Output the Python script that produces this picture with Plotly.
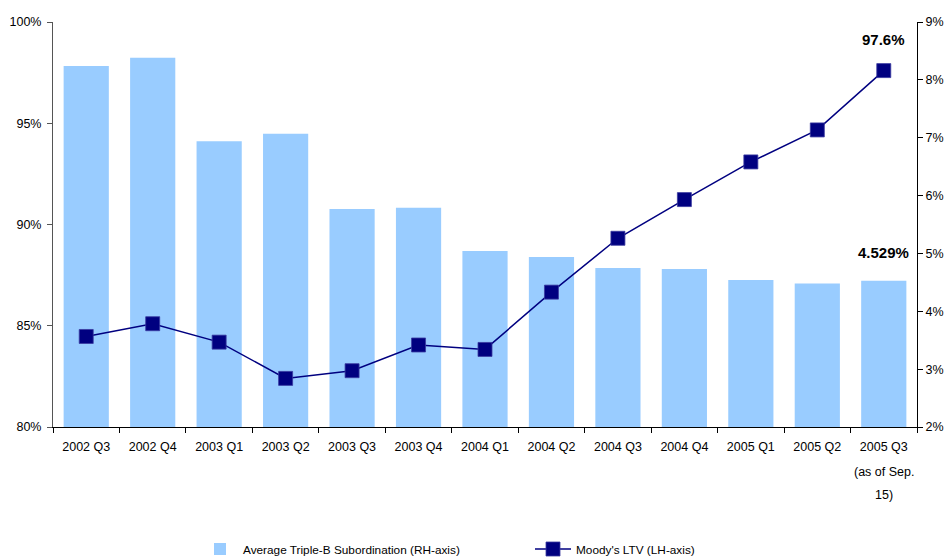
import plotly.graph_objects as go

# Quarter labels along the x axis
quarters = ["2002 Q3", "2002 Q4", "2003 Q1", "2003 Q2", "2003 Q3", "2003 Q4",
            "2004 Q1", "2004 Q2", "2004 Q3", "2004 Q4", "2005 Q1", "2005 Q2",
            "2005 Q3"]
last_quarter_note = ["(as of Sep.", "15)"]

# Average Triple-B subordination, % (right-hand axis)
subordination = [8.24, 8.38, 6.94, 7.07, 5.77, 5.79, 5.04, 4.94, 4.75, 4.73,
                 4.54, 4.48, 4.529]

# Moody's LTV, % (left-hand axis)
moodys_ltv = [84.47, 85.10, 84.19, 82.40, 82.78, 84.05, 83.83, 86.66, 89.32,
              91.23, 93.09, 94.67, 97.6]

left_ticks = [80, 85, 90, 95, 100]
right_ticks = [2, 3, 4, 5, 6, 7, 8, 9]

FONT = "Arial, Liberation Sans, sans-serif"
BAR_COLOR = "#99CCFF"
LINE_COLOR = "#000080"
TICK_SIZE = 12.5
W, H = 949, 558

fig = go.Figure()

fig.add_trace(go.Bar(
    x=quarters, y=subordination, yaxis="y",
    name="Average Triple-B Subordination (RH-axis)",
    marker=dict(color=BAR_COLOR, line=dict(width=0)),
    legend="legend",
))

fig.add_trace(go.Scatter(
    x=quarters, y=moodys_ltv, yaxis="y2",
    mode="lines+markers",
    name="Moody's LTV (LH-axis)",
    line=dict(color=LINE_COLOR, width=1.5),
    marker=dict(symbol="square", size=14, color=LINE_COLOR,
                line=dict(color="#3a3aa0", width=0.8)),
    legend="legend2",
))

annotations = [
    dict(x=quarters[-1], y=moodys_ltv[-1], xref="x", yref="y2",
         text=f"<b>{moodys_ltv[-1]}%</b>", showarrow=False, yshift=31,
         font=dict(family=FONT, size=15, color="#000000"),
         xanchor="center", yanchor="middle"),
    dict(x=quarters[-1], y=subordination[-1], xref="x", yref="y",
         text=f"<b>{subordination[-1]}%</b>", showarrow=False, yshift=28,
         font=dict(family=FONT, size=15, color="#000000"),
         xanchor="center", yanchor="middle"),
]

# extra lines under the final quarter label
for i, line in enumerate(last_quarter_note):
    annotations.append(dict(
        x=quarters[-1], y=-0.111 - 0.057 * i, xref="x", yref="paper",
        text=line, showarrow=False,
        font=dict(family=FONT, size=TICK_SIZE, color="#000000"),
        xanchor="center", yanchor="middle"))

legend_common = dict(
    orientation="h", xref="container", yref="container",
    xanchor="left", yanchor="middle", y=1 - 549 / H,
    font=dict(family=FONT, size=11.8, color="#000000"),
    bgcolor="rgba(0,0,0,0)", itemwidth=36,
)

fig.update_layout(
    width=W, height=H,
    margin=dict(l=53, r=32, t=22, b=131, autoexpand=False),
    paper_bgcolor="white", plot_bgcolor="white",
    font=dict(family=FONT, size=12, color="#000000"),
    bargap=0.32,
    showlegend=True,
    legend=dict(x=197 / W, **legend_common),
    legend2=dict(x=530 / W, **legend_common),
    xaxis=dict(
        type="category", range=[-0.5, len(quarters) - 0.5],
        showline=True, linecolor="#000000", linewidth=1,
        ticks="outside", tickson="boundaries", ticklen=5,
        tickcolor="#000000", showgrid=False, zeroline=False,
        ticklabelstandoff=8, automargin=False,
        tickfont=dict(family=FONT, size=TICK_SIZE, color="#000000"),
    ),
    yaxis=dict(
        side="right", range=[2, 9], tickvals=right_ticks,
        ticktext=[f"{v}%" for v in right_ticks],
        showline=True, linecolor="#000000", linewidth=1,
        ticks="outside", ticklen=5, tickcolor="#000000",
        showgrid=False, zeroline=False, automargin=False,
        tickfont=dict(family=FONT, size=TICK_SIZE, color="#000000"),
    ),
    yaxis2=dict(
        side="left", overlaying="y", range=[80, 100], tickvals=left_ticks,
        ticktext=[f"{v}%" for v in left_ticks],
        showline=True, linecolor="#555555", linewidth=1,
        ticks="outside", ticklen=5, tickcolor="#555555",
        showgrid=False, zeroline=False, automargin=False,
        ticklabelstandoff=3,
        tickfont=dict(family=FONT, size=TICK_SIZE, color="#000000"),
    ),
    annotations=annotations,
)

fig.write_html("out.html")
